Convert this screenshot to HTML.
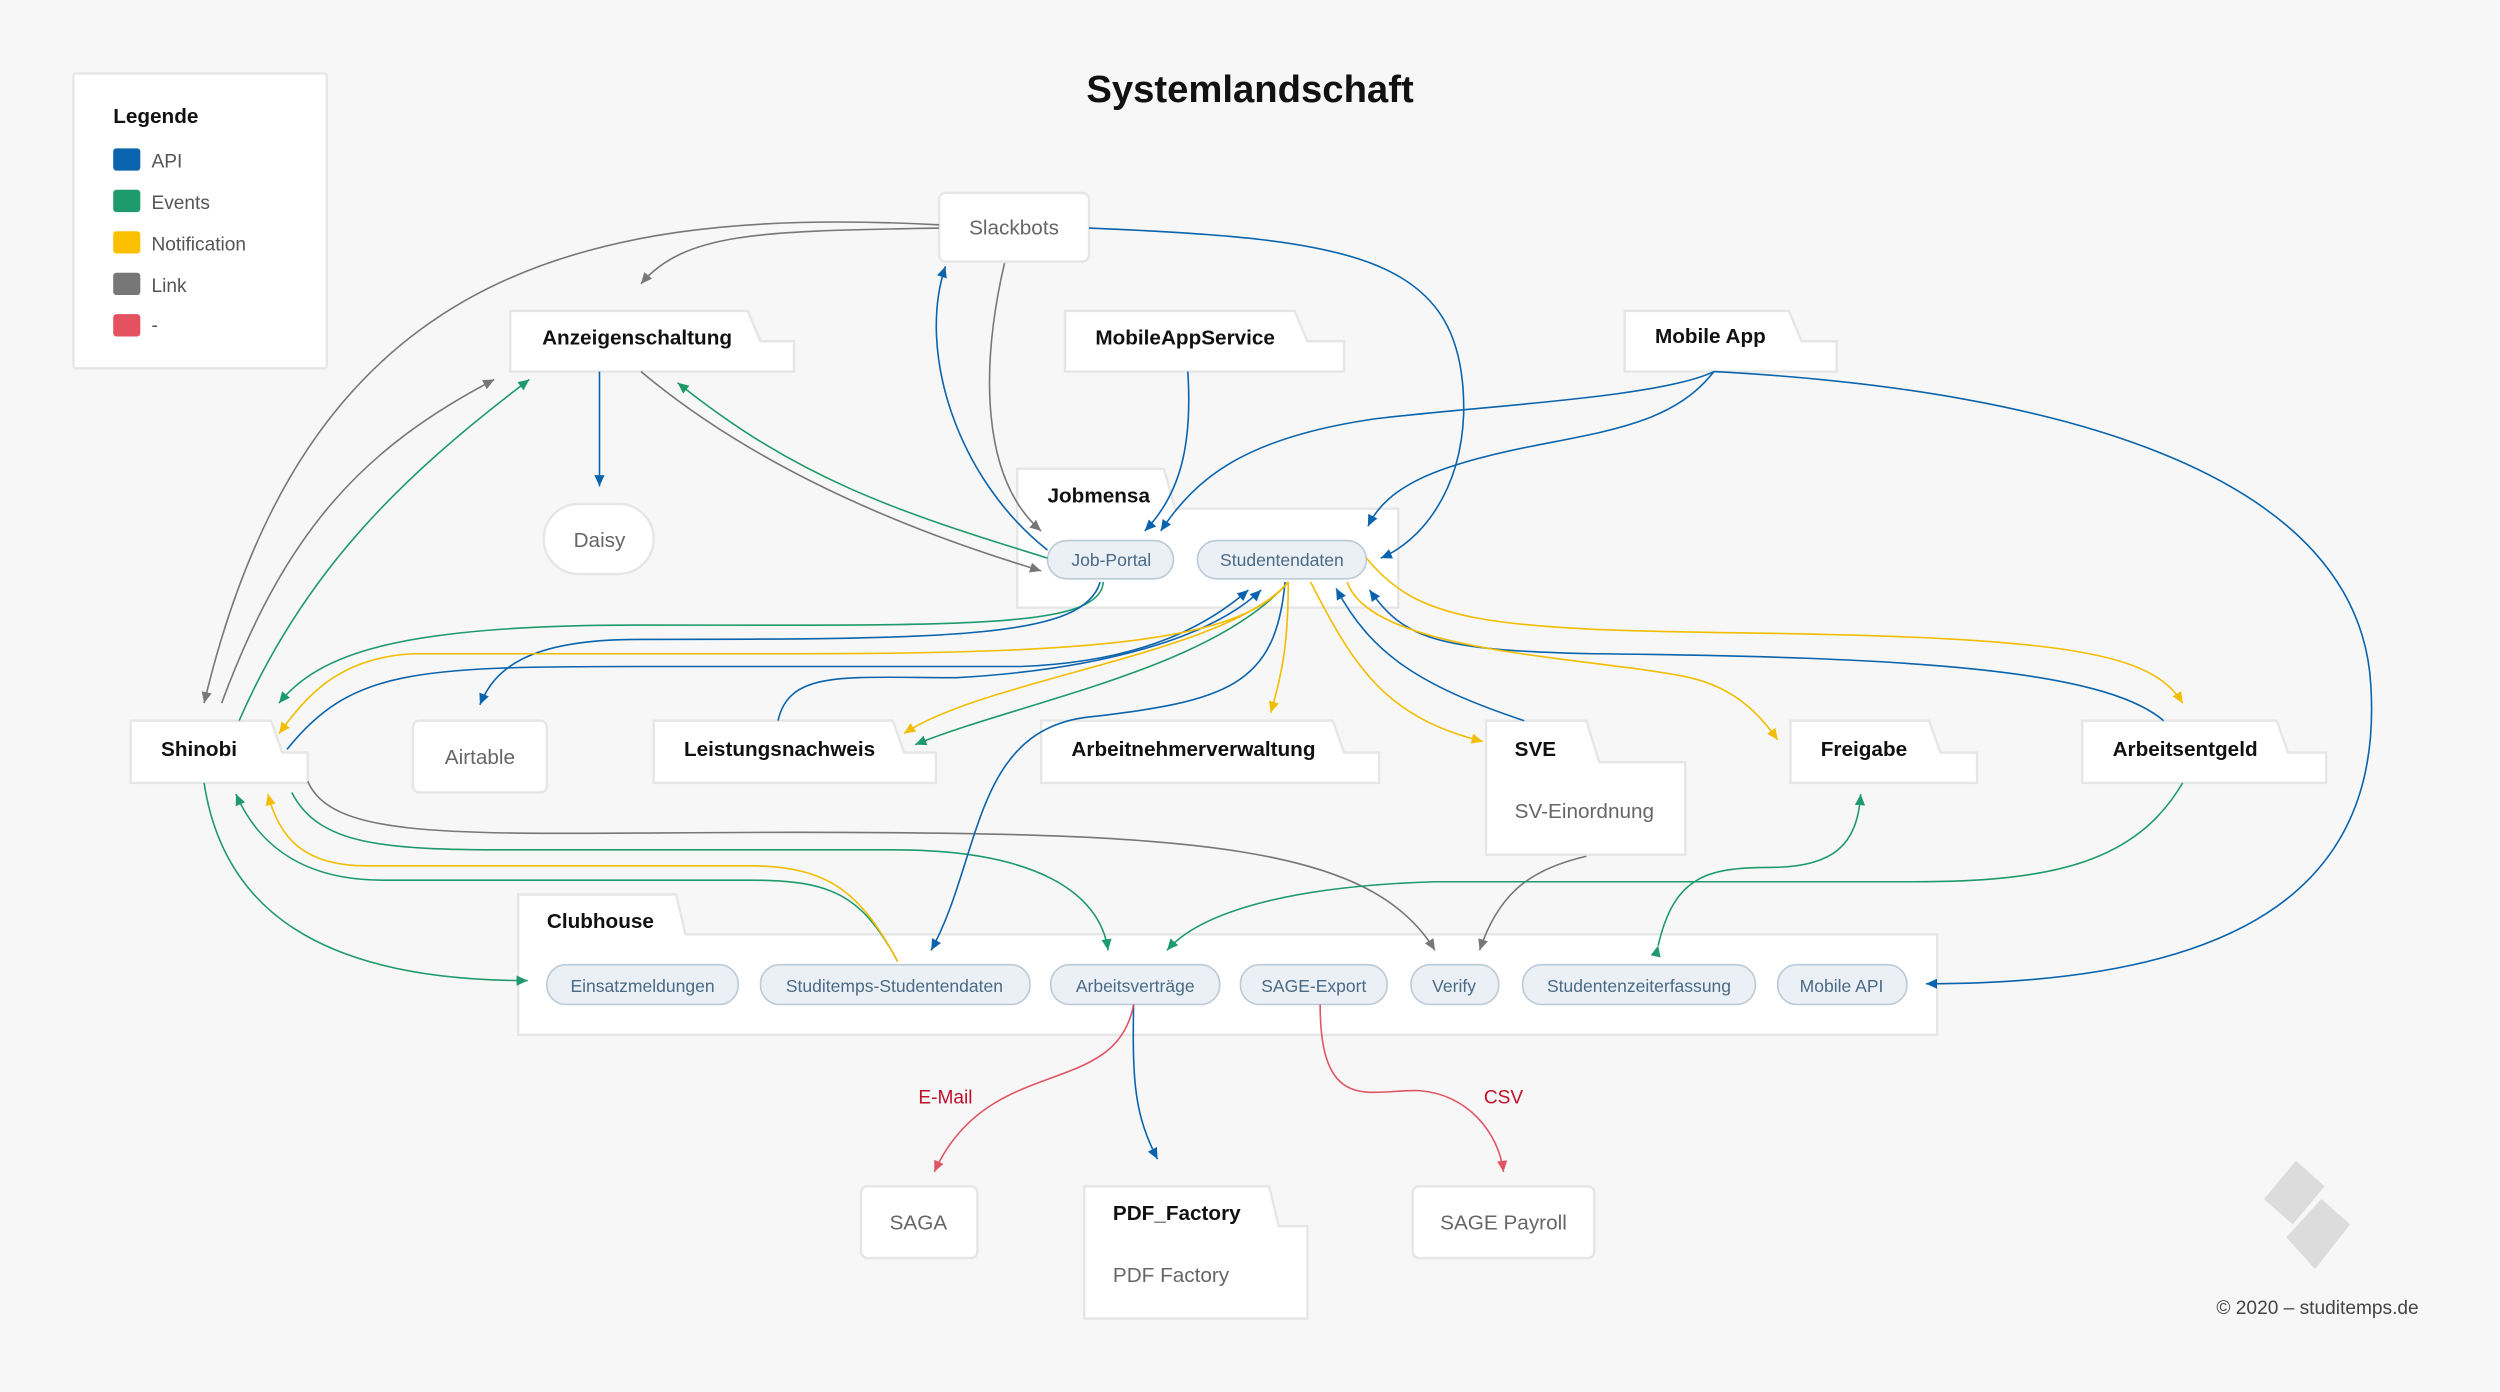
<!DOCTYPE html>
<html><head><meta charset="utf-8"><style>
html,body{margin:0;padding:0;background:#f7f7f7}
svg{display:block}
text{font-family:"Liberation Sans",sans-serif}
.box{fill:#fff;stroke:#e6e6e6;stroke-width:1.5}
.pill{fill:#eaf0f5;stroke:#bccad6;stroke-width:1}
.pt{font-size:11px;fill:#4a6a86;text-anchor:middle}
.tt{font-size:13px;fill:#111;font-weight:bold}
.nt{font-size:13px;fill:#666;text-anchor:middle}
.e{fill:none;stroke-width:1}
.b{stroke:#0a64ad}.g{stroke:#1f9a6c}.y{stroke:#f2bd00}.k{stroke:#777}.r{stroke:#e05565}
</style></head><body>
<svg width="2500" height="1392" viewBox="0 0 1568 873" xmlns="http://www.w3.org/2000/svg">
<defs>
<marker id="mb" markerWidth="8" markerHeight="8" refX="7" refY="4" orient="auto" markerUnits="userSpaceOnUse"><path d="M0,0.8 L7,4 L0,7.2z" fill="#0a64ad"/></marker>
<marker id="mg" markerWidth="8" markerHeight="8" refX="7" refY="4" orient="auto" markerUnits="userSpaceOnUse"><path d="M0,0.8 L7,4 L0,7.2z" fill="#1f9a6c"/></marker>
<marker id="my" markerWidth="8" markerHeight="8" refX="7" refY="4" orient="auto" markerUnits="userSpaceOnUse"><path d="M0,0.8 L7,4 L0,7.2z" fill="#f2bd00"/></marker>
<marker id="mk" markerWidth="8" markerHeight="8" refX="7" refY="4" orient="auto" markerUnits="userSpaceOnUse"><path d="M0,0.8 L7,4 L0,7.2z" fill="#777"/></marker>
<marker id="mr" markerWidth="8" markerHeight="8" refX="7" refY="4" orient="auto" markerUnits="userSpaceOnUse"><path d="M0,0.8 L7,4 L0,7.2z" fill="#e05565"/></marker>
</defs>
<rect width="1568" height="873" fill="#f7f7f7"/>
<text x="784" y="64" font-size="24" font-weight="bold" text-anchor="middle" fill="#111">Systemlandschaft</text>

<!-- legend -->
<rect x="46" y="46" width="159" height="185" rx="2" class="box"/>
<text x="71" y="77" font-size="13" font-weight="bold" fill="#111">Legende</text>
<rect x="71" y="93" width="17" height="14" rx="2" fill="#0a64ad"/><text x="95" y="105" font-size="12" fill="#555">API</text>
<rect x="71" y="119" width="17" height="14" rx="2" fill="#1f9a6c"/><text x="95" y="131" font-size="12" fill="#555">Events</text>
<rect x="71" y="145" width="17" height="14" rx="2" fill="#fbc000"/><text x="95" y="157" font-size="12" fill="#555">Notification</text>
<rect x="71" y="171" width="17" height="14" rx="2" fill="#777"/><text x="95" y="183" font-size="12" fill="#555">Link</text>
<rect x="71" y="197" width="17" height="14" rx="2" fill="#e5525f"/><text x="95" y="208" font-size="12" fill="#555">-</text>

<!-- nodes -->
<rect x="589" y="121" width="94" height="43" rx="4" class="box"/><text x="636" y="147" class="nt">Slackbots</text>
<polygon points="320,195 469,195 477,214 498,214 498,233 320,233" class="box"/><text x="340" y="216" class="tt">Anzeigenschaltung</text>
<polygon points="668,195 812,195 820,214 843,214 843,233 668,233" class="box"/><text x="687" y="216" class="tt">MobileAppService</text>
<polygon points="1019,195 1122,195 1130,214 1152,214 1152,233 1019,233" class="box"/><text x="1038" y="215" class="tt">Mobile App</text>
<rect x="341" y="316" width="69" height="44" rx="22" class="box"/><text x="376" y="343" class="nt">Daisy</text>
<polygon points="638,294 730,294 737,319 877,319 877,381 638,381" class="box"/><text x="657" y="315" class="tt">Jobmensa</text>
<rect x="657" y="339" width="79" height="24" rx="12" class="pill"/><text x="697" y="355" class="pt">Job-Portal</text>
<rect x="751" y="339" width="106" height="24" rx="12" class="pill"/><text x="804" y="355" class="pt">Studentendaten</text>
<polygon points="82,452 170,452 177,472 193,472 193,491 82,491" class="box"/><text x="101" y="474" class="tt">Shinobi</text>
<rect x="259" y="452" width="84" height="45" rx="4" class="box"/><text x="301" y="479" class="nt">Airtable</text>
<polygon points="410,452 560,452 567,472 587,472 587,491 410,491" class="box"/><text x="429" y="474" class="tt">Leistungsnachweis</text>
<polygon points="653,452 836,452 843,472 865,472 865,491 653,491" class="box"/><text x="672" y="474" class="tt">Arbeitnehmerverwaltung</text>
<polygon points="932,452 995,452 1003,478 1057,478 1057,536 932,536" class="box"/><text x="950" y="474" class="tt">SVE</text><text x="950" y="513" font-size="13" fill="#666">SV-Einordnung</text>
<polygon points="1123,452 1210,452 1217,472 1240,472 1240,491 1123,491" class="box"/><text x="1142" y="474" class="tt">Freigabe</text>
<polygon points="1306,452 1428,452 1435,472 1459,472 1459,491 1306,491" class="box"/><text x="1325" y="474" class="tt">Arbeitsentgeld</text>
<polygon points="325,561 424,561 430,586 1215,586 1215,649 325,649" class="box"/><text x="343" y="582" class="tt">Clubhouse</text>
<rect x="343" y="605" width="120" height="25" rx="12" class="pill"/><text x="403" y="622" class="pt">Einsatzmeldungen</text>
<rect x="477" y="605" width="169" height="25" rx="12" class="pill"/><text x="561" y="622" class="pt">Studitemps-Studentendaten</text>
<rect x="659" y="605" width="106" height="25" rx="12" class="pill"/><text x="712" y="622" class="pt">Arbeitsverträge</text>
<rect x="778" y="605" width="92" height="25" rx="12" class="pill"/><text x="824" y="622" class="pt">SAGE-Export</text>
<rect x="885" y="605" width="55" height="25" rx="12" class="pill"/><text x="912" y="622" class="pt">Verify</text>
<rect x="955" y="605" width="146" height="25" rx="12" class="pill"/><text x="1028" y="622" class="pt">Studentenzeiterfassung</text>
<rect x="1115" y="605" width="81" height="25" rx="12" class="pill"/><text x="1155" y="622" class="pt">Mobile API</text>
<rect x="540" y="744" width="73" height="45" rx="4" class="box"/><text x="576" y="771" class="nt">SAGA</text>
<polygon points="680,744 796,744 802,769 820,769 820,827 680,827" class="box"/><text x="698" y="765" class="tt">PDF_Factory</text><text x="698" y="804" font-size="13" fill="#666">PDF Factory</text>
<rect x="886" y="744" width="114" height="45" rx="4" class="box"/><text x="943" y="771" class="nt">SAGE Payroll</text>

<!-- gray -->
<path class="e k" marker-end="url(#mk)" d="M589,141 C350,128 190,180 128,441"/>
<path class="e k" marker-end="url(#mk)" d="M589,143 C480,145 430,145 402,178"/>
<path class="e k" marker-end="url(#mk)" d="M630,165 C615,230 615,300 653,333"/>
<path class="e k" marker-end="url(#mk)" d="M402,233 C470,290 560,330 653,358"/>
<path class="e k" marker-end="url(#mk)" d="M139,441 C180,330 230,280 310,238"/>
<path class="e k" marker-end="url(#mk)" d="M193,490 C210,530 300,522 500,522 C750,522 860,530 900,596"/>
<path class="e k" marker-end="url(#mk)" d="M995,537 C960,545 940,560 928,596"/>
<!-- green -->
<path class="e g" marker-end="url(#mg)" d="M150,452 C190,360 250,300 332,238"/>
<path class="e g" marker-end="url(#mg)" d="M657,350 C560,320 500,300 425,240"/>
<path class="e g" marker-end="url(#mg)" d="M692,365 C690,395 600,392 400,392 C250,392 200,410 175,441"/>
<path class="e g" marker-end="url(#mg)" d="M808,365 C760,420 640,440 574,467"/>
<path class="e g" marker-end="url(#mg)" d="M128,491 C140,570 200,615 331,615"/>
<path class="e g" marker-end="url(#mg)" d="M563,603 C540,560 520,552 470,552 L240,552 C190,552 162,530 148,498"/>
<path class="e g" marker-end="url(#mg)" d="M183,497 C200,530 240,533 320,533 L560,533 C650,533 690,560 695,596"/>
<path class="e g" marker-end="url(#mg)" d="M1369,491 C1340,540 1290,553 1200,553 L900,553 C800,556 750,575 732,596"/>
<path class="e g" marker-start="url(#mg)" marker-end="url(#mg)" d="M1040,593 C1050,550 1070,544 1110,544 C1150,544 1165,530 1167,498"/>
<!-- blue -->
<path class="e b" marker-end="url(#mb)" d="M376,233 L376,305"/>
<path class="e b" marker-end="url(#mb)" d="M657,345 C600,300 575,220 593,167"/>
<path class="e b" marker-end="url(#mb)" d="M683,143 C850,150 920,160 918,260 C916,310 890,340 866,350"/>
<path class="e b" marker-end="url(#mb)" d="M745,233 C748,280 740,310 718,333"/>
<path class="e b" marker-end="url(#mb)" d="M1075,233 C1040,250 920,255 860,263 C780,275 750,300 728,333"/>
<path class="e b" marker-end="url(#mb)" d="M1075,233 C1050,265 1010,270 960,280 C900,292 870,305 858,330"/>
<path class="e b" marker-end="url(#mb)" d="M1075,233 C1300,245 1480,300 1487,430 C1495,560 1400,617 1208,617"/>
<path class="e b" marker-end="url(#mb)" d="M690,365 C680,400 600,401 400,401 C330,401 310,420 301,442"/>
<path class="e b" marker-end="url(#mb)" d="M180,470 C220,420 260,418 400,418 L640,418 C720,415 760,390 783,370"/>
<path class="e b" marker-end="url(#mb)" d="M488,452 C495,420 530,425 600,425 C690,420 760,400 791,370"/>
<path class="e b" marker-end="url(#mb)" d="M806,365 C800,430 770,440 680,450 C610,460 615,540 584,596"/>
<path class="e b" marker-end="url(#mb)" d="M956,452 C890,430 860,410 838,369"/>
<path class="e b" marker-end="url(#mb)" d="M1357,452 C1320,420 1200,412 1000,410 C900,408 880,400 859,370"/>
<path class="e b" marker-end="url(#mb)" d="M711,630 C710,680 712,700 726,727"/>
<!-- yellow -->
<path class="e y" marker-end="url(#my)" d="M808,365 C780,400 700,410 500,410 L260,410 C210,412 190,440 175,460"/>
<path class="e y" marker-end="url(#my)" d="M808,365 C770,410 620,425 567,460"/>
<path class="e y" marker-end="url(#my)" d="M808,365 C808,400 805,420 797,447"/>
<path class="e y" marker-end="url(#my)" d="M822,365 C850,420 870,450 930,465"/>
<path class="e y" marker-end="url(#my)" d="M845,365 C860,410 1000,412 1060,425 C1090,432 1105,450 1115,464"/>
<path class="e y" marker-end="url(#my)" d="M857,350 C890,390 930,395 1100,397 C1300,400 1350,410 1369,441"/>
<path class="e y" marker-end="url(#my)" d="M563,603 C540,560 520,543 470,543 L230,543 C190,543 175,525 168,498"/>
<!-- red -->
<path class="e r" marker-end="url(#mr)" d="M711,630 C700,690 620,660 586,735"/>
<path class="e r" marker-end="url(#mr)" d="M828,630 C828,700 860,683 890,684 C920,686 940,710 943,735"/>
<text x="593" y="692" font-size="12" fill="#c0102a" text-anchor="middle">E-Mail</text>
<text x="943" y="692" font-size="12" fill="#c0102a" text-anchor="middle">CSV</text>

<!-- logo -->
<g fill="#dcdcdc">
<polygon points="1420,752 1440,728 1458,744 1438,768"/>
<polygon points="1434,776 1456,752 1474,768 1452,796"/>
</g>
<text x="1517" y="824" font-size="12" fill="#444" text-anchor="end">© 2020 – studitemps.de</text>
</svg>
</body></html>
